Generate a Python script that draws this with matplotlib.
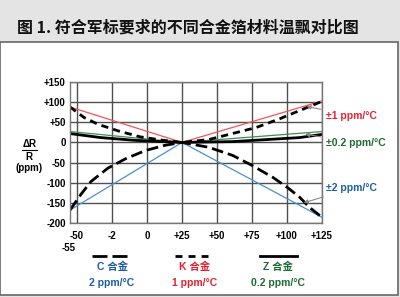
import matplotlib
matplotlib.use('Agg')
import matplotlib.pyplot as plt
from matplotlib.patches import Rectangle
from matplotlib.lines import Line2D

plt.rcParams['font.family'] = ['Liberation Sans', 'Noto Sans CJK SC', 'DejaVu Sans']

# data ---------------------------------------------------------------------------------
title = '图 1. 符合军标要求的不同合金箔材料温飘对比图'

# C alloy (long dashes)
c_x = [-55, -47, -40, -28, -15, -1, 13, 25, 44, 61, 75, 90, 100, 109, 116, 125]
c_y = [-168, -128, -97, -64, -40, -20, -7, 0, -12, -32, -57, -87, -111, -136, -161, -186]
# K alloy (short dashes)
k_x = [-55, -45, -35, -20, -5, 10, 25, 44, 61, 78, 95, 109, 125]
k_y = [88, 62, 45, 28, 14, 6, 0, 7, 22, 37, 59, 79, 102]
# Z alloy (solid)
z_x = [-55, -33, -8, 25, 61, 85, 109, 125]
z_y = [22, 12, 5, 0, 2, 7, 12, 20]

# tolerance envelopes
env_x = [-55, 25, 125]
env_1ppm = [88, 0, 103]
env_02ppm = [27, 0, 27]
env_2ppm = [-168, 0, -186]

x_ticks = [-50, -25, 0, 25, 50, 75, 100, 125]
x_labels = ['-50', '-2', '0', '+25', '+50', '+75', '+100', '+125']
y_ticks = [-200, -150, -100, -50, 0, 50, 100, 150]
y_labels = ['-200', '-150', '-100', '-50', '0', '+50', '+100', '+150']

blue_txt, red_txt, green_txt = '#1a5ca6', '#e8202e', '#1d6b32'
blue_ln, red_ln, green_ln = '#4a8fd2', '#f2545a', '#3f8d57'

fig = plt.figure(figsize=(4, 2.97), dpi=100, facecolor='#e4e4e4')

# white panel under the title bar
fig.patches.append(Rectangle((0.0, 0.007), 0.995, 0.852, transform=fig.transFigure,
                             facecolor='white', edgecolor='#666666', lw=1.2, zorder=-1))
fig.text(0.042, 0.908, title, fontsize=11.5, fontweight='bold', color='#111111',
         family=['Noto Sans CJK SC', 'DejaVu Sans'], va='center', ha='left')

ax = fig.add_axes([0.175, 0.2492, 0.63, 0.4747])
ax.set_zorder(2)
ax.set_xlim(-55, 125)
ax.set_ylim(-200, 150)

for s in ax.spines.values():
    s.set_color('#777777')
    s.set_linewidth(1.0)

ax.set_xticks(x_ticks)
ax.set_xticklabels(x_labels)
ax.set_yticks(y_ticks)
ax.set_yticklabels(y_labels)
ax.tick_params(length=0, labelsize=7, pad=6)
ax.tick_params(axis='y', pad=3)
for lbl in ax.get_xticklabels() + ax.get_yticklabels():
    lbl.set_fontweight('bold')
ax.grid(True, color='#505050', lw=1.0)
ax.set_axisbelow(True)

# envelopes
ax.plot(env_x, env_1ppm, color=red_ln, lw=0.9)
ax.plot(env_x, env_02ppm, color=green_ln, lw=0.9)
ax.plot(env_x, env_2ppm, color=blue_ln, lw=0.9)

# curves
ax.plot(c_x, c_y, color='black', lw=2.0, dashes=(4.2, 1.8))
ax.plot(k_x, k_y, color='black', lw=2.0, dashes=(2.6, 1.8))
ax.plot(z_x, z_y, color='black', lw=2.0)

# annotations on the right
arrow = dict(arrowstyle='-|>', color='#888888', lw=0.8, mutation_scale=6)
ax.annotate('±1 ppm/°C', xy=(112, 91), xytext=(128, 66), color=red_txt, fontsize=7.5,
            fontweight='bold', va='center', ha='left', arrowprops=arrow, annotation_clip=False)
ax.annotate('±0.2 ppm/°C', xy=(111, 22), xytext=(128, -2), color=green_txt, fontsize=7.5,
            fontweight='bold', va='center', ha='left', arrowprops=arrow, annotation_clip=False)
ax.annotate('±2 ppm/°C', xy=(110, -152), xytext=(128, -114), color=blue_txt, fontsize=7.5,
            fontweight='bold', va='center', ha='left', arrowprops=arrow, annotation_clip=False)

ax.text(-56, -263, '-55', fontsize=7, fontweight='bold', ha='center', va='center')

# y label: dR / R (ppm)
fig.text(0.073, 0.515, 'ΔR', fontsize=7, fontweight='bold', ha='center', va='center')
fig.add_artist(Line2D([0.055, 0.092], [0.495, 0.495], color='black', lw=0.8))
fig.text(0.073, 0.473, 'R', fontsize=7, fontweight='bold', ha='center', va='center')
fig.text(0.073, 0.433, '(ppm)', fontsize=7, fontweight='bold', ha='center', va='center')

# legend below the plot
ly = 1 - 256 / 297
fig.add_artist(Line2D([92 / 400, 127 / 400], [ly, ly], color='black', lw=2.0, dashes=(5.4, 1.8)))
fig.add_artist(Line2D([175 / 400, 208 / 400], [ly, ly], color='black', lw=2.0, dashes=(2.5, 2.2)))
fig.add_artist(Line2D([260 / 400, 297 / 400], [ly, ly], color='black', lw=2.0))
legend_items = [(112, 'C 合金', '2 ppm/°C', blue_txt),
                (195, 'K 合金', '1 ppm/°C', red_txt),
                (278, 'Z 合金', '0.2 ppm/°C', green_txt)]
for cx, name, spec, col in legend_items:
    fig.text(cx / 400, 1 - 267 / 297, name, fontsize=7.5, fontweight='bold', color=col,
             ha='center', va='center')
    fig.text(cx / 400, 1 - 283 / 297, spec, fontsize=7.5, fontweight='bold', color=col,
             ha='center', va='center')

fig.savefig('out.png', dpi=100, facecolor=fig.get_facecolor())
